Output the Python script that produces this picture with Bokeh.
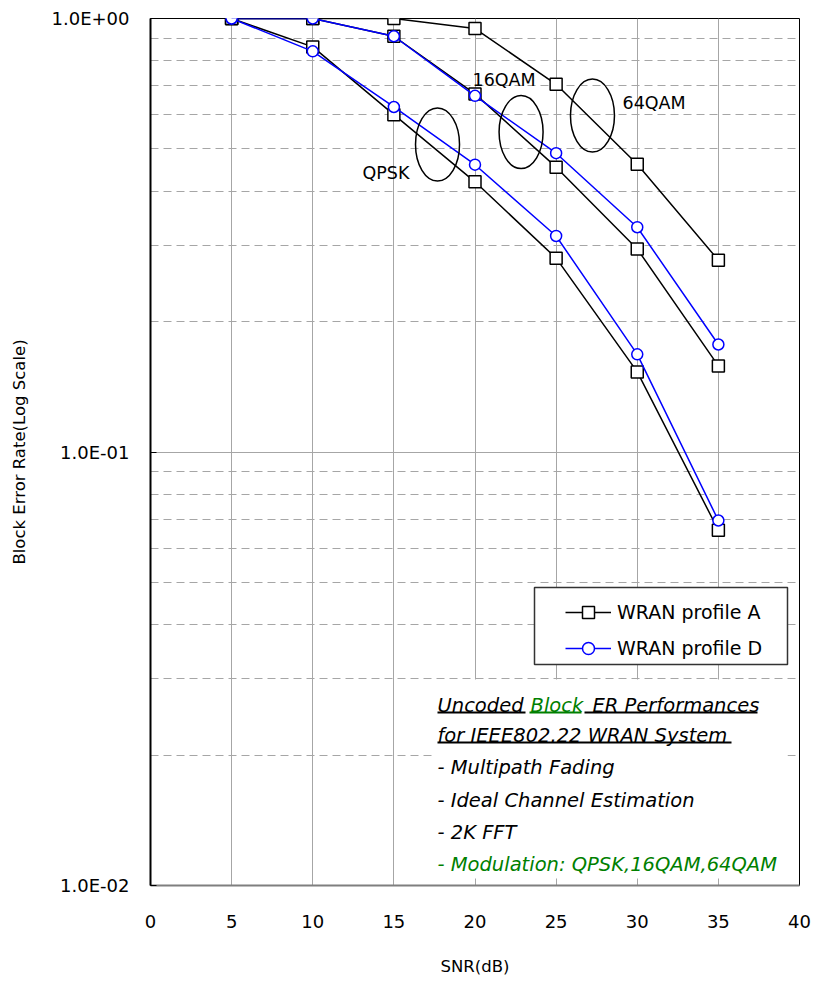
import math
from bokeh.plotting import figure
from bokeh.models import (Range1d, FixedTicker, CustomJSTickFormatter, Label,
                          Legend, LegendItem, BoxAnnotation)
from bokeh.embed import file_html
from bokeh.resources import INLINE

# ---------------- data ----------------
snr = [5, 10, 15, 20, 25, 30, 35]
qpsk_a = [1.0, 0.86, 0.60, 0.42, 0.28, 0.153, 0.066]
qpsk_d = [1.0, 0.84, 0.625, 0.46, 0.315, 0.168, 0.0695]
qam16_a = [1.0, 1.0, 0.91, 0.67, 0.454, 0.294, 0.158]
qam16_d = [1.0, 1.0, 0.91, 0.663, 0.489, 0.33, 0.177]
qam64_a = [1.0, 1.0, 1.0, 0.948, 0.705, 0.461, 0.277]

x_ticks = [0, 5, 10, 15, 20, 25, 30, 35, 40]
y_major = [0.01, 0.1, 1.0]
y_minor = [0.02, 0.03, 0.04, 0.05, 0.06, 0.07, 0.08, 0.09,
           0.2, 0.3, 0.4, 0.5, 0.6, 0.7, 0.8, 0.9]

legend_labels = ["WRAN profile A", "WRAN profile D"]
group_labels = ["QPSK", "16QAM", "64QAM"]
# ellipse centres grouping the three modulation families
group_ell_x = [17.69, 22.84, 27.24]
group_ell_y = [0.512, 0.547, 0.597]

FONT = "DejaVu Sans"
GRID = "#a6a6a6"

p = figure(width=812, height=978, x_range=Range1d(0, 40), y_range=Range1d(0.01, 1.0),
           y_axis_type="log", output_backend="svg", toolbar_location=None,
           min_border_left=150, min_border_right=13, min_border_top=18, min_border_bottom=91)
p.background_fill_color = "white"
p.border_fill_color = "white"
p.outline_line_color = "black"
p.outline_line_width = 1

# axes
xt = FixedTicker(ticks=x_ticks)
yt = FixedTicker(ticks=y_major, minor_ticks=y_minor)
p.xaxis.ticker = xt
p.yaxis.ticker = yt
p.yaxis.formatter = CustomJSTickFormatter(code="""
const e = Math.round(Math.log10(tick));
const m = tick / Math.pow(10, e);
const s = e < 0 ? "-" : "+";
return m.toFixed(1) + "E" + s + String(Math.abs(e)).padStart(2, "0");
""")
for ax in (p.xaxis, p.yaxis):
    ax.major_label_text_font = FONT
    ax.major_label_text_font_size = "18px"
    ax.major_label_text_color = "black"
    ax.minor_tick_line_color = None
    ax.axis_label_text_font = FONT
    ax.axis_label_text_font_size = "16.5px"
    ax.axis_label_text_font_style = "normal"
    ax.axis_label_text_color = "black"
p.xaxis.major_tick_line_color = None
p.xaxis.axis_line_color = "#7f7f7f"
p.xaxis.axis_line_width = 2
p.xaxis.major_label_standoff = 23
p.xaxis.axis_label = "SNR(dB)"
p.xaxis.axis_label_standoff = 26
p.yaxis.axis_line_color = "black"
p.yaxis.axis_line_width = 2
p.yaxis.major_tick_in = 6
p.yaxis.major_tick_out = 0
p.yaxis.major_tick_line_color = "black"
p.yaxis.major_label_standoff = 17
p.yaxis.axis_label = "Block Error Rate(Log Scale)"
p.yaxis.axis_label_standoff = 20

# grid
p.xgrid.ticker = xt
p.ygrid.ticker = yt
p.xgrid.grid_line_color = GRID
p.ygrid.grid_line_color = GRID
p.ygrid.minor_grid_line_color = GRID
p.ygrid.minor_grid_line_dash = "8 5"

# series
a_line = dict(line_color="black", line_width=1.5)
a_mark = dict(marker="square", size=12, fill_color="white", line_color="black", line_width=1.5)
d_line = dict(line_color="#0000ff", line_width=1.5)
d_mark = dict(marker="circle", size=11, fill_color="white", line_color="#0000ff", line_width=1.5)

la = []
sa = []
for ys in (qpsk_a, qam16_a, qam64_a):
    la.append(p.line(snr, ys, **a_line))
    sa.append(p.scatter(snr, ys, **a_mark))
ld = []
sd = []
for ys in (qpsk_d, qam16_d):
    ld.append(p.line(snr, ys, **d_line))
    sd.append(p.scatter(snr, ys, **d_mark))

# grouping ellipses
p.ellipse(x=group_ell_x, y=group_ell_y, width=44, height=73,
          width_units="screen", height_units="screen",
          fill_color=None, line_color="black", line_width=1.5)

# group labels (screen units relative to plot frame)
for txt, sx, sy in zip(group_labels, [212, 322, 472], [713, 806, 783]):
    p.add_layout(Label(x=sx, y=sy, x_units="screen", y_units="screen", text=txt,
                       text_font=FONT, text_font_size="17.5px", text_align="left",
                       text_baseline="alphabetic", text_color="black"))

# legend box + legend
p.add_layout(BoxAnnotation(left=384, right=637, top=298, bottom=221,
                           left_units="screen", right_units="screen",
                           top_units="screen", bottom_units="screen",
                           fill_color="white", fill_alpha=1.0,
                           line_color="#333333", line_width=1.5, line_alpha=1.0))
legend = Legend(items=[LegendItem(label=legend_labels[0], renderers=[la[0], sa[0]]),
                       LegendItem(label=legend_labels[1], renderers=[ld[0], sd[0]])],
                location=(415, 222), glyph_width=46, glyph_height=30, label_height=30,
                label_standoff=6, spacing=6, padding=5, margin=0,
                border_line_color=None, background_fill_alpha=0,
                label_text_font=FONT, label_text_font_size="19px", label_text_color="black")
p.add_layout(legend)

# annotation text block
p.add_layout(BoxAnnotation(left=282, right=637, top=206, bottom=7,
                           left_units="screen", right_units="screen",
                           top_units="screen", bottom_units="screen",
                           fill_color="white", fill_alpha=1.0, line_color=None))

GREEN = "#008000"
lines = [
    ("Uncoded", 287, 180, "black"),
    ("Block", 380, 180, GREEN),
    ("ER Performances", 442, 180, "black"),
    ("for IEEE802.22 WRAN System", 287, 150, "black"),
    ("- Multipath Fading", 287, 118, "black"),
    ("- Ideal Channel Estimation", 287, 85, "black"),
    ("- 2K FFT", 287, 53, "black"),
    ("- Modulation: QPSK,16QAM,64QAM", 287, 21, GREEN),
]
for txt, sx, sy, col in lines:
    p.add_layout(Label(x=sx, y=sy, x_units="screen", y_units="screen", text=txt,
                       text_font=FONT, text_font_size="19.5px", text_font_style="italic",
                       text_align="left", text_baseline="alphabetic", text_color=col))

# underlines
for l, r, t, b, col in [(287, 375, 174, 172, "black"), (379, 431, 174, 172, GREEN),
                        (434, 607, 174, 172, "black"), (287, 581, 144, 142, "black")]:
    p.add_layout(BoxAnnotation(left=l, right=r, top=t, bottom=b,
                               left_units="screen", right_units="screen",
                               top_units="screen", bottom_units="screen",
                               fill_color=col, fill_alpha=1.0, line_color=None))

open("out.html", "w").write(file_html(p, INLINE))
